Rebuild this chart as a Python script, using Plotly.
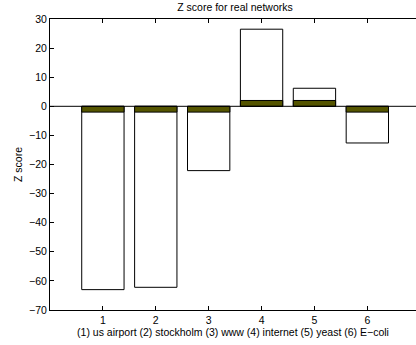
import plotly.graph_objects as go

categories = [1, 2, 3, 4, 5, 6]
z_scores = [-63.0, -62.2, -22.1, 26.5, 6.2, -12.6]
threshold = [-2, -2, -2, 2, 2, -2]
x_ticks = [1, 2, 3, 4, 5, 6]
y_ticks = [30, 20, 10, 0, -10, -20, -30, -40, -50, -60, -70]
y_tick_text = ["30", "20", "10", "0", "\u221210", "\u221220", "\u221230", "\u221240", "\u221250", "\u221260", "\u221270"]

fig = go.Figure()
fig.add_trace(go.Bar(x=categories, y=z_scores, width=0.8,
                     marker=dict(color="white", line=dict(color="black", width=1)),
                     showlegend=False))
fig.add_trace(go.Bar(x=categories, y=threshold, width=0.8,
                     marker=dict(color="#555500", line=dict(color="black", width=1)),
                     showlegend=False))

fig.add_hline(y=0, line=dict(color="black", width=1))

font = "Liberation Sans, Arial, Helvetica, sans-serif"
fs = 10.5
fig.update_layout(
    width=416, height=345,
    barmode="overlay",
    plot_bgcolor="white", paper_bgcolor="white",
    margin=dict(l=50, r=0, t=19, b=35),
    font=dict(family=font, size=fs, color="black"),
    title=dict(text="Z score for real networks", x=(50 + 420) / 2 / 416, xanchor="center",
               y=1 - 7 / 345, yanchor="middle", font=dict(size=fs, family=font, color="black")),
    xaxis=dict(range=[0, 6.92], tickvals=x_ticks, ticktext=[str(v) for v in x_ticks],
               ticks="inside", ticklen=4, tickcolor="black", showline=True,
               linecolor="black", linewidth=1, mirror="ticks", showgrid=False,
               zeroline=False, tickfont=dict(size=fs),
               title=dict(text="(1) us airport (2) stockholm (3) www (4) internet (5) yeast (6) E\u2212coli",
                          font=dict(size=fs), standoff=3)),
    yaxis=dict(range=[-70, 30], tickvals=y_ticks, ticktext=y_tick_text,
               ticks="inside", ticklen=4, tickcolor="black", showline=True,
               linecolor="black", linewidth=1, mirror=False, showgrid=False,
               zeroline=False, tickfont=dict(size=fs),
               title=dict(text="Z score", font=dict(size=fs), standoff=4)),
)

fig.write_html("out.html")
